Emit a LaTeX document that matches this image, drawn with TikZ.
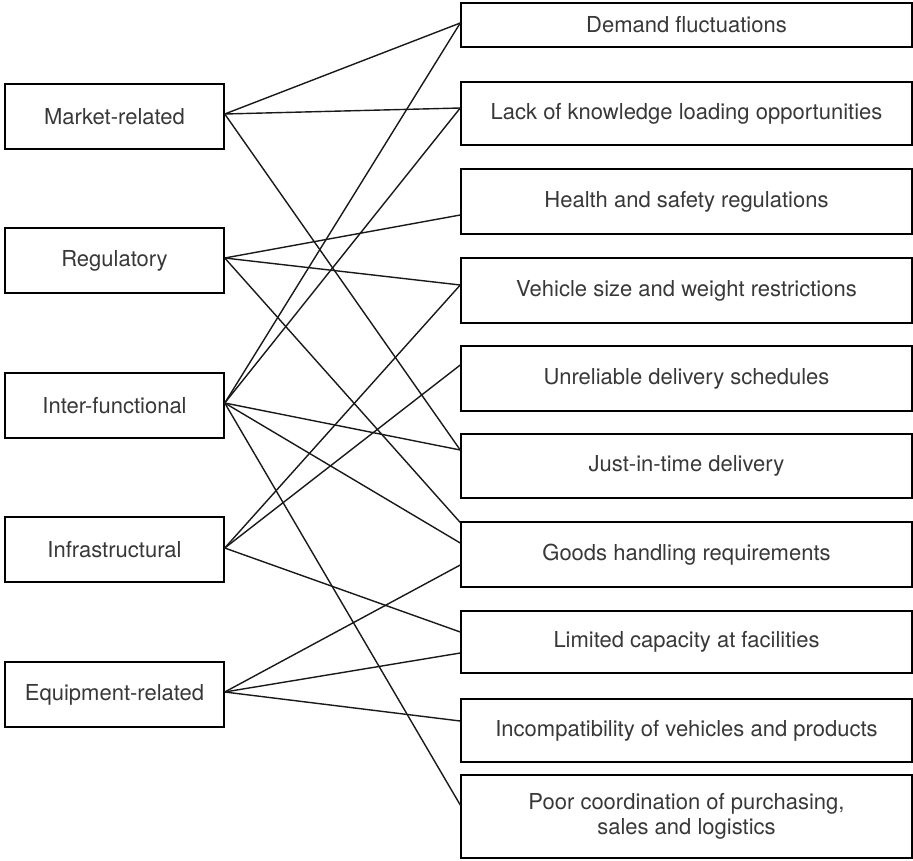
\documentclass[tikz,border=0pt]{standalone}
\usepackage{fontspec}
\setmainfont{TeX Gyre Heros}
\begin{document}
\begin{tikzpicture}[x=1pt,y=-1pt,
  box/.style={draw=black, line width=1.5pt, rectangle, inner sep=0pt,
    text=black!78, font=\fontsize{22}{25}\selectfont, align=center},
  cat/.style={box, minimum width=219pt, minimum height=65pt},
  item/.style={box, minimum width=451pt},
  link/.style={draw=black!90, line width=1.4pt}]
\useasboundingbox (0,0) rectangle (913,860);

% categories on the left
\node[cat] (mkt) at (114.5,116.5) {Market-related};
\node[cat] (reg) at (114.5,260.5) {Regulatory};
\node[cat] (inf) at (114.5,405.5) {Inter-functional};
\node[cat] (str) at (114.5,549.5) {Infrastructural};
\node[cat] (eqp) at (114.5,694.5) {Equipment-related};

% barriers on the right
\node[item, minimum height=44pt] (dem) at (686.5,25)    {Demand fluctuations};
\node[item, minimum height=63pt] (lak) at (686.5,113.5) {Lack of knowledge loading opportunities};
\node[item, minimum height=65pt] (hsr) at (686.5,201.5) {Health and safety regulations};
\node[item, minimum height=65pt] (vsw) at (686.5,290.5) {Vehicle size and weight restrictions};
\node[item, minimum height=65pt] (uds) at (686.5,378.5) {Unreliable delivery schedules};
\node[item, minimum height=64pt] (jit) at (686.5,466)   {Just-in-time delivery};
\node[item, minimum height=65pt] (ghr) at (686.5,554.5) {Goods handling requirements};
\node[item, minimum height=62pt] (lcf) at (686.5,642)   {Limited capacity at facilities};
\node[item, minimum height=63pt] (ivp) at (686.5,730.5) {Incompatibility of vehicles and products};
\node[item, minimum height=83pt] (pcp) at (686.5,816.5) {Poor coordination of purchasing,\\sales and logistics};

% Market-related
\draw[link] ([yshift=2.5pt]mkt.east) -- ([yshift=2pt]dem.west);
\draw[link] ([yshift=2.5pt]mkt.east) -- ([yshift=5.5pt]lak.west);
\draw[link] ([yshift=2.5pt]mkt.east) -- ([yshift=16pt]jit.west);

% Regulatory
\draw[link] ([yshift=2.5pt]reg.east) -- ([yshift=-13.5pt]hsr.west);
\draw[link] ([yshift=2.5pt]reg.east) -- ([yshift=5.5pt]vsw.west);
\draw[link] ([yshift=2.5pt]reg.east) -- ([yshift=32pt]ghr.west);

% Inter-functional
\draw[link] ([yshift=2.5pt]inf.east) -- ([yshift=2pt]dem.west);
\draw[link] ([yshift=2.5pt]inf.east) -- ([yshift=5.5pt]lak.west);
\draw[link] ([yshift=2.5pt]inf.east) -- ([yshift=16pt]jit.west);
\draw[link] ([yshift=2.5pt]inf.east) -- ([yshift=11.5pt]ghr.west);
\draw[link] ([yshift=2.5pt]inf.east) -- ([yshift=11.5pt]pcp.west);

% Infrastructural
\draw[link] ([yshift=1.5pt]str.east) -- ([yshift=5.5pt]vsw.west);
\draw[link] ([yshift=1.5pt]str.east) -- ([yshift=13.5pt]uds.west);
\draw[link] ([yshift=1.5pt]str.east) -- ([yshift=10pt]lcf.west);

% Equipment-related
\draw[link] ([yshift=2.5pt]eqp.east) -- ([yshift=-10.5pt]ghr.west);
\draw[link] ([yshift=2.5pt]eqp.east) -- ([yshift=-11pt]lcf.west);
\draw[link] ([yshift=2.5pt]eqp.east) -- ([yshift=9.5pt]ivp.west);
\end{tikzpicture}
\end{document}
